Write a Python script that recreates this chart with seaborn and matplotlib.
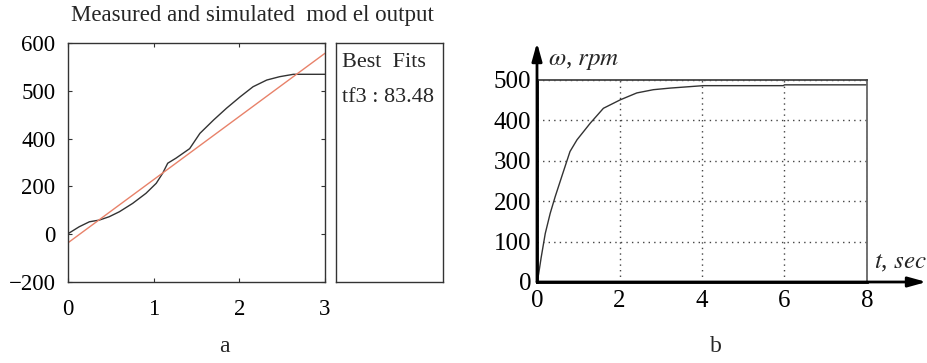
import numpy as np
import pandas as pd
import matplotlib
matplotlib.use("Agg")
import matplotlib.pyplot as plt
import seaborn as sns

sns.set_theme(style="white")
plt.rcParams['font.family'] = ['Liberation Serif', 'DejaVu Serif']
plt.rcParams['mathtext.fontset'] = 'stix'

# ---- Panel a data ----
a_time = [0.0, 0.13, 0.25, 0.365, 0.48, 0.60, 0.755, 0.91, 1.03, 1.105, 1.164, 1.26,
          1.42, 1.54, 1.70, 1.85, 2.01, 2.16, 2.32, 2.47, 2.63, 3.0]
a_measured = [2, 31, 52, 59, 73, 94, 129, 171, 213, 255, 297, 318,
              358, 422, 478, 527, 575, 617, 645, 659, 669, 669]
a_fit_time = [0.0, 3.0]
a_fit = [-36, 757]
a_ytick_pos = [-200, 0, 200, 400, 600, 800]
a_ytick_labels = ["\u2212200", "0", "200", "400", "500", "600"]
a_xticks = [0, 1, 2, 3]
a_title = "Measured and simulated  mod el output"
fit_labels = ["Best  Fits", "tf3 : 83.48"]

# ---- Panel b data ----
b_time = [0.0, 0.04, 0.1, 0.2, 0.32, 0.44, 0.6, 0.8, 0.97, 1.29, 1.61, 2.02, 2.42, 2.82, 3.23, 4.03, 5.97, 6.0, 8.0]
b_speed = [0, 20, 60, 120, 170, 211, 261, 323, 352, 393, 430, 451, 468, 476, 480, 486, 486, 488, 488]
b_xticks = [0, 2, 4, 6, 8]
b_yticks = [0, 100, 200, 300, 400, 500]

W, H = 928, 363
fig = plt.figure(figsize=(W / 100, H / 100), dpi=100)

def fx(px):
    return px / W

def fy(py):
    return 1 - py / H

# ---------- Panel a ----------
axa = fig.add_axes([fx(68), fy(282), fx(325) - fx(68), fy(43) - fy(282)])
dfa = pd.DataFrame({"t": a_time, "y": a_measured})
dff = pd.DataFrame({"t": a_fit_time, "y": a_fit})
sns.lineplot(data=dfa, x="t", y="y", ax=axa, color="#333333", linewidth=1.0)
sns.lineplot(data=dff, x="t", y="y", ax=axa, color="#e8826a", linewidth=1.0)
axa.set_xlim(0, 3)
axa.set_ylim(-200, 800)
axa.set_xticks(a_xticks)
axa.set_xticklabels([str(v) for v in a_xticks])
axa.set_yticks(a_ytick_pos)
axa.set_yticklabels(a_ytick_labels)
axa.set_xlabel("")
axa.set_ylabel("")
axa.tick_params(direction="in", length=3, width=0.8, color="#333333",
                top=True, right=True, bottom=True, left=True,
                labelsize=16.5, labelcolor="black")
axa.tick_params(axis="x", pad=12)
axa.tick_params(axis="y", pad=9)
for s in axa.spines.values():
    s.set_color("#333333")
    s.set_linewidth(1.0)
fig.text(fx(252), fy(15), a_title, ha="center", va="center", fontsize=16.5)

axbox = fig.add_axes([fx(336), fy(282), fx(443) - fx(336), fy(43) - fy(282)])
axbox.set_xticks([])
axbox.set_yticks([])
for s in axbox.spines.values():
    s.set_color("#333333")
    s.set_linewidth(1.0)
axbox.text(0.06, 0.92, fit_labels[0], transform=axbox.transAxes, ha="left", va="center", fontsize=16)
axbox.text(0.06, 0.77, fit_labels[1], transform=axbox.transAxes, ha="left", va="center", fontsize=16)

fig.text(fx(224), fy(346), "a", ha="center", va="center", fontsize=17)

# ---------- Panel b ----------
axb = fig.add_axes([fx(537), fy(282), fx(867) - fx(537), fy(80) - fy(282)])
dfb = pd.DataFrame({"t": b_time, "w": b_speed})
sns.lineplot(data=dfb, x="t", y="w", ax=axb, color="#333333", linewidth=1.0)
axb.set_xlim(0, 8)
axb.set_ylim(0, 500)
axb.set_xticks(b_xticks)
axb.set_yticks(b_yticks)
axb.set_xlabel("")
axb.set_ylabel("")
axb.grid(True, linestyle=(0, (1, 3)), color="#444444", linewidth=1.0)
axb.tick_params(length=0, labelsize=18, labelcolor="black")
axb.tick_params(axis="x", pad=6)
axb.tick_params(axis="y", pad=4)
axb.spines["top"].set_color("#444444")
axb.spines["right"].set_color("#666666")
axb.spines["top"].set_linewidth(1.3)
axb.spines["right"].set_linewidth(1.3)
axb.spines["left"].set_color("black")
axb.spines["left"].set_linewidth(2.0)
axb.spines["bottom"].set_color("black")
axb.spines["bottom"].set_linewidth(2.0)

# arrows
axb.annotate("", xy=(0, 1.185), xytext=(0, 0.0), xycoords="axes fraction",
             arrowprops=dict(arrowstyle="-|>,head_length=0.9,head_width=0.25",
                             color="black", lw=2.0, shrinkA=0, shrinkB=0),
             annotation_clip=False)
axb.annotate("", xy=(1.18, 0), xytext=(0.0, 0), xycoords="axes fraction",
             arrowprops=dict(arrowstyle="-|>,head_length=0.9,head_width=0.25",
                             color="black", lw=2.0, shrinkA=0, shrinkB=0),
             annotation_clip=False)
fig.text(fx(548), fy(61), r"$\omega$, $rpm$", ha="left", va="center", fontsize=18)
fig.text(fx(874), fy(263), r"$t$, $sec$", ha="left", va="center", fontsize=18)
fig.text(fx(716), fy(346), "b", ha="center", va="center", fontsize=17)

fig.savefig("out.png", dpi=100)
